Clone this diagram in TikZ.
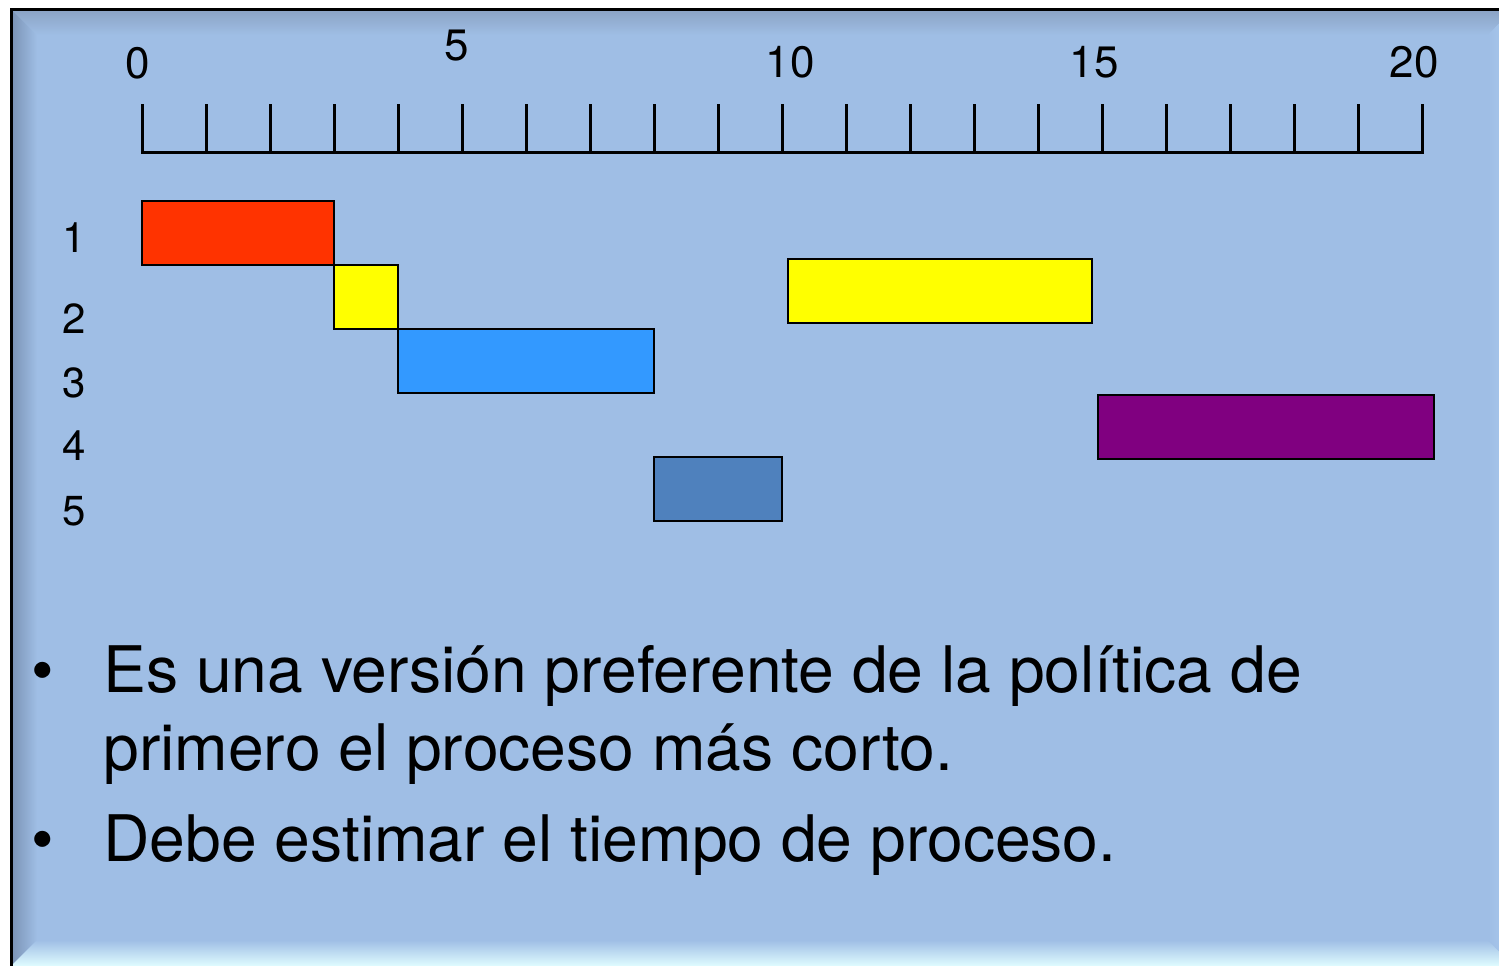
\documentclass[tikz,border=0pt]{standalone}
\usepackage{fontspec}
\setmainfont{TeX Gyre Heros}
\definecolor{bgmain}{RGB}{159,190,229}
\definecolor{bevtop}{RGB}{138,162,195}
\definecolor{bevleft}{RGB}{122,146,180}
\definecolor{bevbot}{RGB}{224,252,255}
\definecolor{bevright}{RGB}{170,202,238}
\definecolor{cred}{RGB}{255,51,0}
\definecolor{cyellow}{RGB}{255,255,0}
\definecolor{cblue}{RGB}{51,153,255}
\definecolor{csteel}{RGB}{79,129,189}
\definecolor{cpurple}{RGB}{128,0,128}
\tikzset{
  bar/.style={draw=black, line width=1pt},
  axisline/.style={line width=1.5pt, line cap=rect},
  ticklbl/.style={inner sep=0pt, font=\fontsize{22}{26}\selectfont},
  rowlbl/.style={inner sep=0pt, font=\fontsize{21}{25}\selectfont},
  bigtxt/.style={inner sep=0pt, anchor=base west, font=\fontsize{32.1}{38}\selectfont},
  bulletmark/.style={inner sep=0pt, anchor=base, font=\fontsize{32.1}{38}\selectfont}
}
\begin{document}
\begin{tikzpicture}[x=0.5pt,y=-0.5pt]
\useasboundingbox (0,0) rectangle (1499,965);
\clip (0,0) rectangle (1499,965);
\fill[white] (0,0) rectangle (1499,965);
% panel
\fill[bgmain] (11,9) rectangle (1499,965);
% bevels
\shade[top color=bevtop, bottom color=bgmain] (11,9) -- (1513,9) -- (1488,35) -- (37,35) -- cycle;
\shade[left color=bevleft, right color=bgmain] (11,9) -- (37,35) -- (37,940) -- (11,966) -- cycle;
\shade[top color=bgmain, bottom color=bevbot] (11,966) -- (37,940) -- (1488,940) -- (1514,966) -- cycle;
\shade[left color=bgmain, right color=bevright] (1488,35) -- (1513,9) -- (1513,966) -- (1488,940) -- cycle;
\draw[line width=1.5pt] (11,970) -- (11,9) -- (1505,9);
% axis
\foreach \k in {0,...,20} {
  \coordinate (tk\k) at ({142+64*\k},152);
  \coordinate (tt\k) at ({142+64*\k},104);
  \draw[line width=1.5pt] (tk\k) -- (tt\k);
}
\draw[axisline] (tk0) -- (tk20);
% axis labels
\node[ticklbl] (l0) at (138,63) {0};
\node[ticklbl] (l5) at (457,46) {5};
\node[ticklbl] (l10) at (790,62) {10};
\node[ticklbl] (l15) at (1094,62) {15};
\node[ticklbl] (l20) at (1414,62) {20};
% row labels
\node[rowlbl] (r1) at (74,238) {1};
\node[rowlbl] (r2) at (74,319) {2};
\node[rowlbl] (r3) at (74,383) {3};
\node[rowlbl] (r4) at (74,446) {4};
\node[rowlbl] (r5) at (74,511) {5};
% bars
\draw[bar, fill=cred] (142,201) rectangle (334,265);
\draw[bar, fill=cyellow] (334,265) rectangle (398,329);
\draw[bar, fill=cblue] (398,329) rectangle (654,393);
\draw[bar, fill=csteel] (654,457) rectangle (782,521);
\draw[bar, fill=cyellow] (788,259) rectangle (1092,323);
\draw[bar, fill=cpurple] (1098,395) rectangle (1434,459);
% bullets
\node[bulletmark] (b1) at (43,692) {•};
\node[bigtxt] (t1) at (103,692) {Es una versión preferente de la política de};
\node[bigtxt] (t2) at (103,770) {primero el proceso más corto.};
\node[bulletmark] (b2) at (43,861) {•};
\node[bigtxt] (t3) at (103,861) {Debe estimar el tiempo de proceso.};
\end{tikzpicture}
\end{document}
